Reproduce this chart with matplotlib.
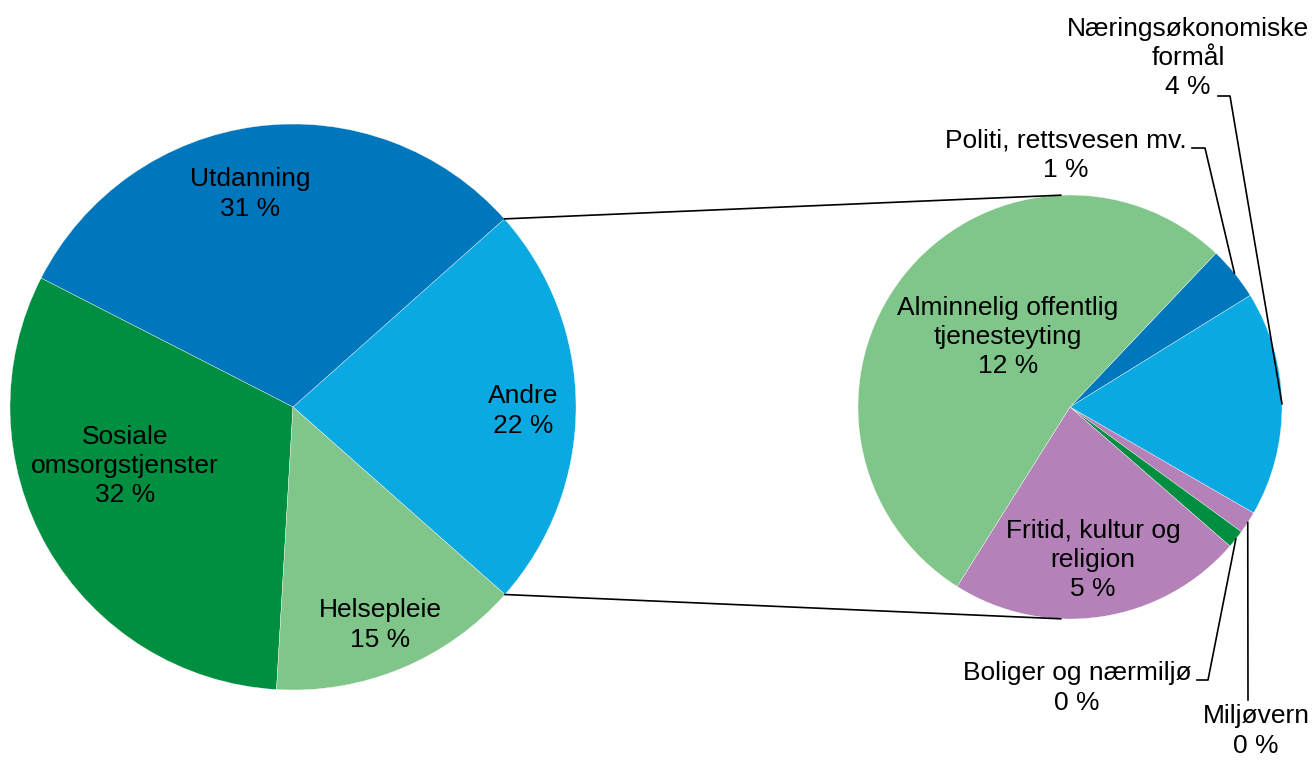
import matplotlib
matplotlib.use("Agg")
import matplotlib.pyplot as plt
import numpy as np

plt.rcParams['font.family'] = ['Liberation Sans', 'DejaVu Sans']

# Venstre kake: fordeling totalt
hoved_navn = ["Andre", "Utdanning", "Sosiale\nomsorgstjenster", "Helsepleie"]
hoved_andel = [23.1, 30.9, 31.6, 14.4]
hoved_etikett = ["22 %", "31 %", "32 %", "15 %"]
hoved_farger = ["#0BA9E1", "#0077BD", "#008E40", "#80C58A"]

# Høyre kake: "Andre" brutt ned
andre_navn = ["Politi, rettsvesen mv.", "Næringsøkonomiske\nformål", "Miljøvern",
              "Boliger og nærmiljø", "Fritid, kultur og\nreligion",
              "Alminnelig offentlig\ntjenesteyting"]
andre_andel = [0.95, 3.98, 0.39, 0.32, 5.23, 12.33]
andre_etikett = ["1 %", "4 %", "0 %", "0 %", "5 %", "12 %"]
andre_farger = ["#0077BD", "#0BA9E1", "#B481B8", "#008E40", "#B481B8", "#80C58A"]

W, H = 1316, 760
fig = plt.figure(figsize=(W / 100, H / 100), dpi=100)
ax = fig.add_axes([0, 0, 1, 1])

def py(y):
    # piksel-y (fra toppen) til data-y
    return H - y

c1, r1 = (293, py(407)), 283
c2, r2 = (1070, py(407)), 212
fs = 19
ls = 1.28

w1, _ = ax.pie(hoved_andel, colors=hoved_farger, center=c1, radius=r1,
               startangle=-41.5, counterclock=True,
               wedgeprops=dict(edgecolor='white', linewidth=0.25))
w2, _ = ax.pie(andre_andel, colors=andre_farger, center=c2, radius=r2,
               startangle=46.5, counterclock=False,
               wedgeprops=dict(edgecolor='white', linewidth=0.25))
ax.set_xlim(0, W)
ax.set_ylim(0, H)
ax.set_aspect('equal')
ax.axis('off')

# Etiketter i venstre kake
pos1 = [(523, 411), (250, 194), (125, 466), (380, 625)]
for navn, et, (x, y) in zip(hoved_navn, hoved_etikett, pos1):
    ax.text(x, py(y), navn + "\n" + et, ha='center', va='center', fontsize=fs,
            linespacing=ls)

# Etiketter i høyre kake (store)
ax.text(1008, py(337), andre_navn[5] + "\n" + andre_etikett[5], ha='center',
        va='center', fontsize=fs, linespacing=ls)
ax.text(1093, py(560), andre_navn[4] + "\n" + andre_etikett[4], ha='center',
        va='center', fontsize=fs, linespacing=ls)

# Forbindelseslinjer mellom kakene
a = w1[0]
for ang, ang2 in [(a.theta2, 92.5), (a.theta1, 267.5)]:
    x0 = c1[0] + r1 * np.cos(np.radians(ang))
    y0 = c1[1] + r1 * np.sin(np.radians(ang))
    x1 = c2[0] + r2 * np.cos(np.radians(ang2))
    y1 = c2[1] + r2 * np.sin(np.radians(ang2))
    ax.plot([x0, x1], [y0, y1], color='black', lw=1.2)

# Små sektorer med pekelinjer
def rim(w):
    m = np.radians((w.theta1 + w.theta2) / 2)
    return c2[0] + r2 * np.cos(m), c2[1] + r2 * np.sin(m)

ledere = {
    0: dict(tekst=(1066, 155), albue=[(1192, 148), (1205, 148)]),
    1: dict(tekst=(1188, 58), albue=[(1218, 96), (1230, 96)]),
    3: dict(tekst=(1077, 688), albue=[(1197, 680), (1208, 680)]),
    2: dict(tekst=(1256, 731), albue=[(1248, 700)]),
}
for i, d in ledere.items():
    xr, yr = rim(w2[i])
    pts = [(x, py(y)) for x, y in d['albue']] + [(xr, yr)]
    ax.plot([p[0] for p in pts], [p[1] for p in pts], color='black', lw=1.2)
    tx, ty = d['tekst']
    ax.text(tx, py(ty), andre_navn[i] + "\n" + andre_etikett[i], ha='center',
            va='center', fontsize=fs, linespacing=ls)

fig.savefig("out.png", dpi=100)
